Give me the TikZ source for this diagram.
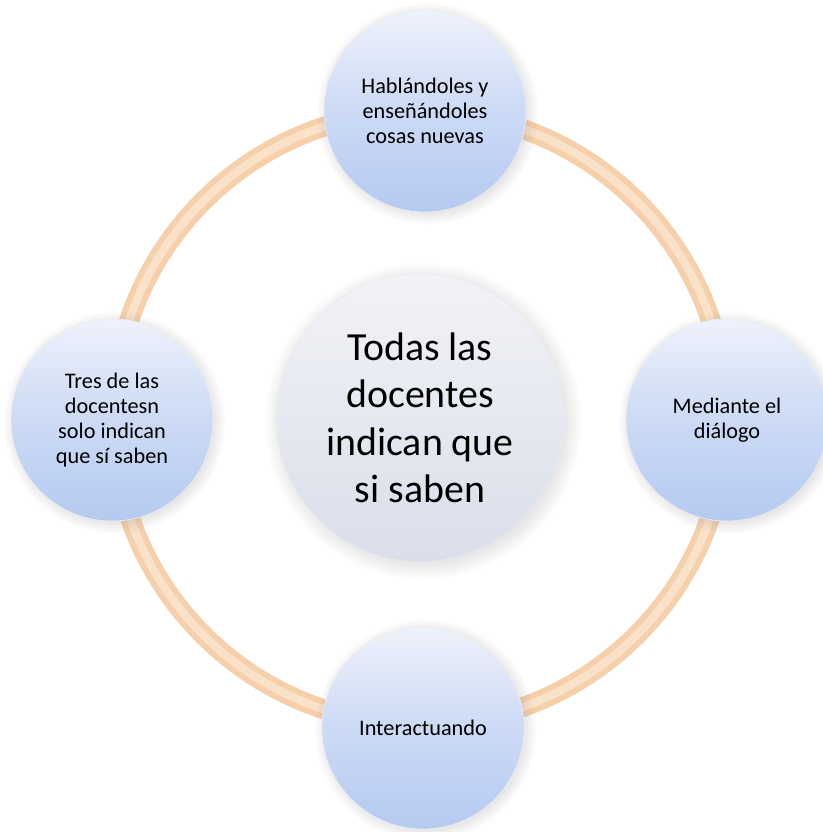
\documentclass[tikz,border=0pt]{standalone}
\usepackage{fontspec}
\setmainfont{Carlito}
\usetikzlibrary{shadows}
\definecolor{ringc}{HTML}{F5D0AA}
\definecolor{ringl}{HTML}{FAE2C9}
\definecolor{bluetop}{HTML}{EEF2FB}
\definecolor{bluemid}{HTML}{CCDAF5}
\definecolor{bluebot}{HTML}{B5CAF1}
\definecolor{greytop}{HTML}{F2F3F7}
\definecolor{greybot}{HTML}{D9DEE9}
\tikzset{
  outer/.style={circle, minimum size=6.06cm, inner sep=0pt, align=center,
    top color=bluetop, bottom color=bluebot, middle color=bluemid,
    draw=white!85!gray, line width=0.6pt,
    circular drop shadow={shadow xshift=0.06cm, shadow yshift=-0.06cm, opacity=0.25},
    font=\fontsize{19}{21.5}\selectfont},
  centre/.style={circle, minimum size=8.64cm, inner sep=0pt, align=center,
    top color=greytop, bottom color=greybot,
    draw=white!85!gray, line width=0.6pt,
    circular drop shadow={shadow xshift=0.08cm, shadow yshift=-0.08cm, opacity=0.25},
    font=\fontsize{34}{40.5}\selectfont},
  ringbase/.style={draw=ringc, line width=17pt},
  ringhi/.style={draw=ringl, line width=7pt}
}
\begin{document}
\begin{tikzpicture}[x=0.03cm, y=-0.03cm]
\fill[white] (0,0) rectangle (823,832);
\useasboundingbox (0,0) rectangle (823,832);
\coordinate (o) at (420,418);
\draw[ringbase] (o) circle[radius=9.2cm];
\draw[ringhi] (o) circle[radius=9.2cm];
\node[centre] (c) at (420,418) {Todas las\\docentes\\indican que\\si saben};
\node[outer] (t) at (425,111) {Hablándoles y\\enseñándoles\\cosas nuevas};
\node[outer] (r) at (727,420) {Mediante el\\diálogo};
\node[outer] (b) at (423,728) {Interactuando};
\node[outer] (l) at (112,420) {Tres de las\\docentesn\\solo indican\\que sí saben};
\end{tikzpicture}
\end{document}
